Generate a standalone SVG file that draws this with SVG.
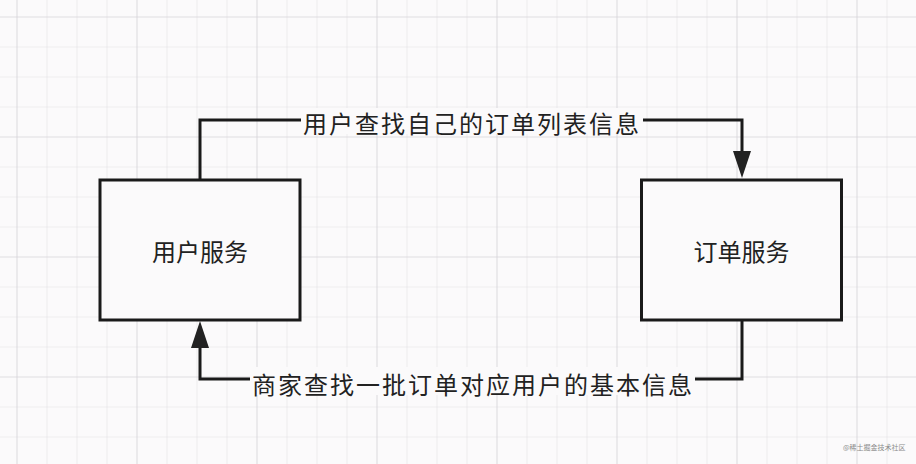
<svg xmlns="http://www.w3.org/2000/svg" width="916" height="464" viewBox="0 0 916 464">
  <defs>
    <pattern id="minor" x="16.5" y="16.5" width="30" height="30" patternUnits="userSpaceOnUse">
      <path d="M0 0H30M0 0V30" fill="none" stroke="#e3e1e4" stroke-width="1.2"/>
    </pattern>
    <pattern id="major" x="16.5" y="16.5" width="120" height="120" patternUnits="userSpaceOnUse">
      <path d="M0 0H120M0 0V120" fill="none" stroke="#d6d4d8" stroke-width="1.2"/>
    </pattern>
    <marker id="arrow" viewBox="0 0 18 27" refX="9" refY="27" markerWidth="18" markerHeight="27" markerUnits="userSpaceOnUse" orient="auto-start-reverse">
      <path d="M0 0L18 0L9 27Z" fill="#222"/>
    </marker>
    <style>
      .box { fill: #fbfafb; stroke: #1a1a1a; stroke-width: 3; }
      .edge { fill: none; stroke: #1a1a1a; stroke-width: 3; }
      .head { fill: #222; }
      .label { font-family: "Noto Sans CJK SC", "Noto Sans", sans-serif; font-size: 24px; fill: #222; text-anchor: middle; dominant-baseline: central; }
      .elabel { letter-spacing: 2px; }
      .lbg { fill: #fbfafb; }
      .wm { font-family: "Noto Sans CJK SC", "Noto Sans", sans-serif; font-size: 7px; fill: #8a8a8a; }
    </style>
  </defs>
  <rect width="916" height="464" fill="#fbfafb"/>
  <rect width="916" height="464" fill="url(#minor)"/>
  <rect width="916" height="464" fill="url(#major)"/>

  <g id="connectors">
    <g id="edge-top">
      <path class="edge" d="M200 180V120H303M640 120H742V152"/>
      <path class="head" d="M733 151L751 151L742 178Z"/>
      <rect class="lbg" x="301" y="108" width="342" height="26"/>
      <text class="label elabel" x="472" y="122">用户查找自己的订单列表信息</text>
    </g>
    <g id="edge-bottom">
      <path class="edge" d="M742 320V379H694M251 379H200V347"/>
      <path class="head" d="M191 348L209 348L200 321Z"/>
      <rect class="lbg" x="250" y="367" width="445" height="28"/>
      <text class="label elabel" x="473" y="383">商家查找一批订单对应用户的基本信息</text>
    </g>
  </g>

  <g id="user-service">
    <rect class="box" x="100" y="180" width="200" height="140"/>
    <text class="label" x="200" y="250">用户服务</text>
  </g>

  <g id="order-service">
    <rect class="box" x="641.5" y="180" width="200" height="140"/>
    <text class="label" x="741.5" y="250">订单服务</text>
  </g>

  <text class="wm" x="843" y="450">@稀土掘金技术社区</text>
</svg>
